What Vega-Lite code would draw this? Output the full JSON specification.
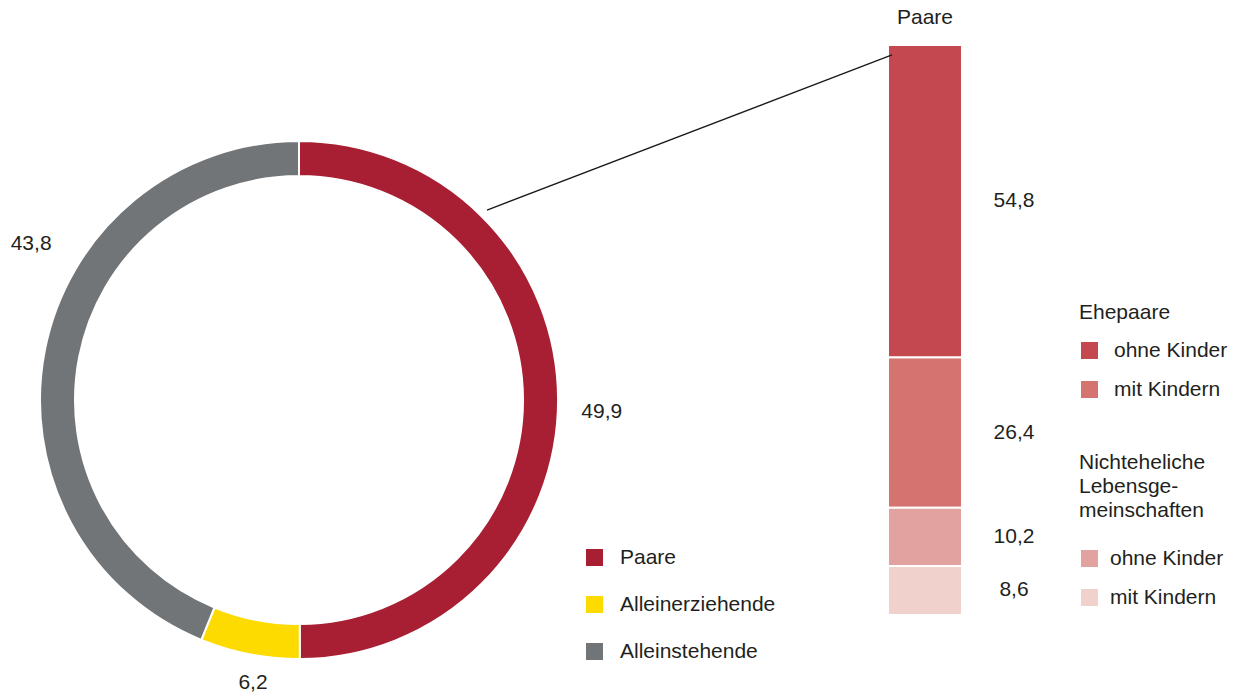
{
  "$schema": "https://vega.github.io/schema/vega-lite/v6.json",
  "width": 1238,
  "height": 592,
  "autosize": {"type": "none"},
  "padding": {"top": 104, "left": 0, "right": 0, "bottom": 0},
  "background": "white",
  "config": {
    "view": {"stroke": null},
    "font": "Liberation Sans",
    "locale": {"number": {"decimal": ",", "thousands": ".", "grouping": [3], "currency": ["", " €"]}},
    "text": {"fontSize": 21, "color": "#231F20", "font": "Liberation Sans"},
    "legend": {
      "orient": "none",
      "symbolType": "square",
      "symbolSize": 289,
      "symbolStrokeWidth": 0,
      "labelFontSize": 21,
      "labelColor": "#231F20",
      "labelFont": "Liberation Sans",
      "labelLimit": 300,
      "titleFontSize": 21,
      "titleFontWeight": "normal",
      "titleColor": "#231F20",
      "titleFont": "Liberation Sans",
      "titleLineHeight": 24,
      "titleLimit": 300
    }
  },
  "datasets": {
    "haushalte": [
      {"Gruppe": "Haushalte", "Kategorie": "Paare", "Anteil": 49.9, "nr": 1},
      {"Gruppe": "Haushalte", "Kategorie": "Alleinerziehende", "Anteil": 6.2, "nr": 2},
      {"Gruppe": "Haushalte", "Kategorie": "Alleinstehende", "Anteil": 43.8, "nr": 3}
    ],
    "paare": [
      {"Gruppe": "Paare", "Typ": "Nichteheliche Lebensgemeinschaften", "Kinder": "mit Kindern", "Anteil": 8.6, "nr": 1},
      {"Gruppe": "Paare", "Typ": "Nichteheliche Lebensgemeinschaften", "Kinder": "ohne Kinder", "Anteil": 10.2, "nr": 2},
      {"Gruppe": "Paare", "Typ": "Ehepaare", "Kinder": "mit Kindern", "Anteil": 26.4, "nr": 3},
      {"Gruppe": "Paare", "Typ": "Ehepaare", "Kinder": "ohne Kinder", "Anteil": 54.8, "nr": 4}
    ]
  },
  "encoding": {
    "x": {
      "field": "Gruppe",
      "type": "nominal",
      "scale": {"domain": ["Haushalte", "Paare"], "paddingInner": 0.5, "paddingOuter": 0.2388, "align": 0.4766},
      "axis": null
    }
  },
  "resolve": {"scale": {"color": "independent"}},
  "layer": [
    {
      "data": {"name": "haushalte"},
      "encoding": {
        "theta": {"field": "Anteil", "type": "quantitative", "stack": true},
        "order": {"field": "nr", "type": "quantitative"}
      },
      "layer": [
        {
          "mark": {"type": "arc", "radius": 259, "radius2": 224, "stroke": "white", "strokeWidth": 2},
          "encoding": {
            "color": {
              "field": "Kategorie",
              "type": "nominal",
              "scale": {"domain": ["Paare", "Alleinerziehende", "Alleinstehende"], "range": ["#A81E33", "#FDDA00", "#727578"]},
              "legend": {"title": null, "legendX": 584, "legendY": 443, "labelOffset": 15, "rowPadding": 25}
            }
          }
        },
        {
          "mark": {"type": "text", "radius": 303, "thetaOffset": 0.04},
          "encoding": {
            "text": {"condition": {"test": "datum.Kategorie !== 'Paare'", "value": ""}, "field": "Anteil", "type": "quantitative", "format": ".1f"}
          }
        },
        {
          "mark": {"type": "text", "radius": 287, "thetaOffset": -0.031},
          "encoding": {
            "text": {"condition": {"test": "datum.Kategorie !== 'Alleinerziehende'", "value": ""}, "field": "Anteil", "type": "quantitative", "format": ".1f"}
          }
        },
        {
          "mark": {"type": "text", "radius": 310, "thetaOffset": 0.334},
          "encoding": {
            "text": {"condition": {"test": "datum.Kategorie !== 'Alleinstehende'", "value": ""}, "field": "Anteil", "type": "quantitative", "format": ".1f"}
          }
        }
      ]
    },
    {
      "data": {"name": "paare"},
      "transform": [
        {"stack": "Anteil", "groupby": ["Gruppe"], "sort": [{"field": "nr", "order": "ascending"}], "as": ["u0", "u1"]}
      ],
      "resolve": {"scale": {"color": "independent"}},
      "layer": [
        {
          "transform": [{"filter": "datum.Typ === 'Ehepaare'"}],
          "mark": {"type": "bar", "width": 74, "stroke": "white", "strokeWidth": 2},
          "encoding": {
            "y": {"field": "u0", "type": "quantitative", "scale": {"domain": [-14.21, 89.65], "nice": false, "zero": false}, "axis": null},
            "y2": {"field": "u1"},
            "color": {
              "field": "Kinder",
              "type": "nominal",
              "scale": {"domain": ["ohne Kinder", "mit Kindern"], "range": ["#C44850", "#D4736F"]},
              "legend": {"title": "Ehepaare", "legendX": 1079, "legendY": 198, "labelOffset": 14, "rowPadding": 17, "titlePadding": 17}
            }
          }
        },
        {
          "transform": [{"filter": "datum.Typ !== 'Ehepaare'"}],
          "mark": {"type": "bar", "width": 74, "stroke": "white", "strokeWidth": 2},
          "encoding": {
            "y": {"field": "u0", "type": "quantitative", "scale": {"domain": [-14.21, 89.65], "nice": false, "zero": false}, "axis": null},
            "y2": {"field": "u1"},
            "color": {
              "field": "Kinder",
              "type": "nominal",
              "scale": {"domain": ["ohne Kinder", "mit Kindern"], "range": ["#E1A2A0", "#F0D1CC"]},
              "legend": {"title": ["Nichteheliche", "Lebensge-", "meinschaften"], "legendX": 1079, "legendY": 348, "labelOffset": 10, "rowPadding": 17, "titlePadding": 27}
            }
          }
        },
        {
          "mark": {"type": "text", "dx": 89},
          "encoding": {
            "y": {"field": "Anteil", "type": "quantitative", "stack": "zero", "bandPosition": 0.5, "scale": {"domain": [-14.21, 89.65], "nice": false, "zero": false}, "axis": null},
            "order": {"field": "nr", "type": "quantitative"},
            "text": {"field": "Anteil", "type": "quantitative", "format": ".1f"}
          }
        },
        {
          "transform": [{"aggregate": [{"op": "sum", "field": "Anteil", "as": "Summe"}], "groupby": ["Gruppe"]}],
          "mark": {"type": "text", "dy": -27},
          "encoding": {
            "y": {"field": "Summe", "type": "quantitative", "scale": {"domain": [-14.21, 89.65], "nice": false, "zero": false}, "axis": null},
            "text": {"field": "Gruppe", "type": "nominal"}
          }
        }
      ]
    },
    {
      "data": {"values": [{}]},
      "mark": {"type": "rule", "color": "#1A1A1A", "strokeWidth": 1.3, "xOffset": 188, "x2Offset": -33},
      "encoding": {
        "x": {"datum": "Haushalte", "type": "nominal"},
        "x2": {"datum": "Paare"},
        "y": {"datum": 71.05, "type": "quantitative", "scale": {"domain": [-14.21, 89.65], "nice": false, "zero": false}, "axis": null},
        "y2": {"datum": 98.25}
      }
    }
  ]
}
